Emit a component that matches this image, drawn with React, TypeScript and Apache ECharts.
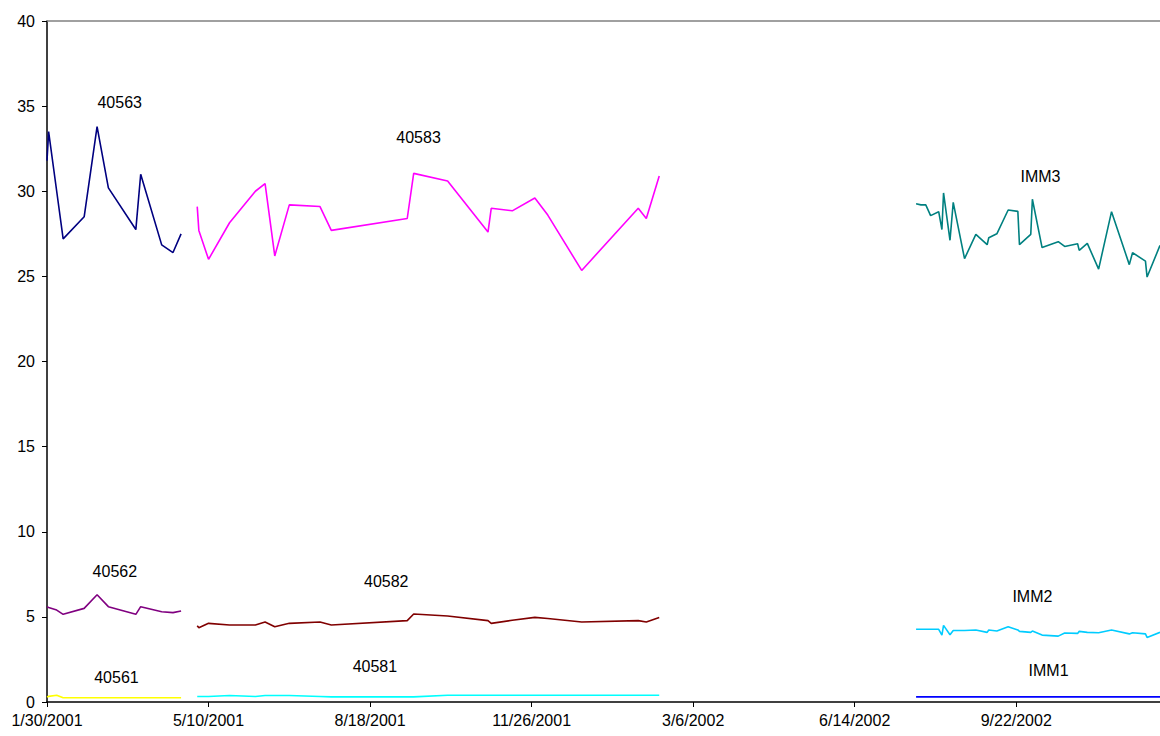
import React, { useEffect, useRef } from "react";
import * as echarts from "echarts";

// ---------- data ----------
const BASE_DATE = "2001-01-30";
const X_MAX_DAYS = 689;
const X_INTERVAL_DAYS = 100;
const Y_TICKS = [0, 5, 10, 15, 20, 25, 30, 35, 40];

// Group A: 40561 / 40562 / 40563
const datesA = [
  "2001-01-30", "2001-01-31", "2001-02-05", "2001-02-09", "2001-02-22", "2001-03-02",
  "2001-03-09", "2001-03-26", "2001-03-29", "2001-04-11", "2001-04-18", "2001-04-23",
];
const vals40563 = [31.8, 33.5, 30.0, 27.2, 28.5, 33.8, 30.2, 27.75, 31.0, 26.85, 26.4, 27.5];
const vals40562 = [5.6, 5.55, 5.4, 5.15, 5.5, 6.3, 5.6, 5.15, 5.6, 5.3, 5.25, 5.35];
const vals40561 = [0.3, 0.33, 0.4, 0.25, 0.25, 0.25, 0.25, 0.25, 0.25, 0.25, 0.25, 0.25];

// Group B: 40581 / 40582 / 40583
const datesB = [
  "2001-05-03", "2001-05-04", "2001-05-10", "2001-05-23", "2001-06-08", "2001-06-14",
  "2001-06-20", "2001-06-29", "2001-07-18", "2001-07-25", "2001-09-10", "2001-09-14",
  "2001-10-05", "2001-10-30", "2001-11-01", "2001-11-14", "2001-11-28", "2001-12-06",
  "2001-12-27", "2002-01-31", "2002-02-05", "2002-02-13",
];
const vals40583 = [
  29.1, 27.7, 26.0, 28.15, 30.0, 30.45, 26.2, 29.2, 29.1, 27.7, 28.4, 31.05,
  30.6, 27.6, 29.0, 28.85, 29.6, 28.6, 25.35, 29.0, 28.4, 30.9,
];
const vals40582 = [
  4.48, 4.36, 4.62, 4.52, 4.52, 4.7, 4.42, 4.62, 4.7, 4.52, 4.78, 5.17,
  5.05, 4.78, 4.62, 4.8, 4.97, 4.9, 4.7, 4.78, 4.7, 4.97,
];
const vals40581 = [
  0.32, 0.32, 0.32, 0.38, 0.32, 0.38, 0.38, 0.38, 0.32, 0.3, 0.3, 0.3,
  0.4, 0.4, 0.4, 0.4, 0.4, 0.4, 0.4, 0.4, 0.4, 0.4,
];

// Group C: IMM1 / IMM2 / IMM3
const datesC = [
  "2002-07-22", "2002-07-25", "2002-07-28", "2002-07-31", "2002-08-05", "2002-08-07",
  "2002-08-08", "2002-08-12", "2002-08-14", "2002-08-21", "2002-08-28", "2002-09-04",
  "2002-09-05", "2002-09-10", "2002-09-17", "2002-09-23", "2002-09-24", "2002-10-01",
  "2002-10-02", "2002-10-08", "2002-10-18", "2002-10-22", "2002-10-30", "2002-10-31",
  "2002-11-05", "2002-11-12", "2002-11-20", "2002-12-01", "2002-12-03", "2002-12-11",
  "2002-12-12", "2002-12-20",
];
const valsIMM3 = [
  29.27, 29.2, 29.2, 28.57, 28.8, 27.75, 29.9, 27.12, 29.35, 26.04, 27.47, 26.86,
  27.27, 27.5, 28.9, 28.82, 26.86, 27.47, 29.53, 26.69, 27.04, 26.76, 26.92, 26.53,
  26.94, 25.43, 28.8, 25.69, 26.39, 25.9, 24.96, 26.82,
];
const valsIMM2 = [
  4.27, 4.27, 4.27, 4.27, 4.27, 3.93, 4.5, 3.95, 4.2, 4.2, 4.23, 4.09,
  4.23, 4.17, 4.42, 4.23, 4.15, 4.09, 4.17, 3.93, 3.87, 4.05, 4.03, 4.15,
  4.09, 4.07, 4.23, 4.0, 4.07, 4.0, 3.79, 4.09,
];
const valsIMM1 = [
  0.3, 0.3, 0.3, 0.3, 0.3, 0.3, 0.3, 0.3, 0.3, 0.3, 0.3, 0.3,
  0.3, 0.3, 0.3, 0.3, 0.3, 0.3, 0.3, 0.3, 0.3, 0.3, 0.3, 0.3,
  0.3, 0.3, 0.3, 0.3, 0.3, 0.3, 0.3, 0.3,
];

// series names, colours and label anchor points (date, value)
const seriesNames = ["40563", "40562", "40561", "40583", "40582", "40581", "IMM3", "IMM2", "IMM1"];
const seriesColors = ["#000080", "#800080", "#FFFF00", "#FF00FF", "#800000", "#00FFFF", "#008080", "#00CCFF", "#0000FF"];
const labelDates = [
  "2001-03-16", "2001-03-13", "2001-03-14", "2001-09-17", "2001-08-28", "2001-08-21",
  "2002-10-07", "2002-10-02", "2002-10-12",
];
const labelValues = [35.2, 7.65, 1.45, 33.15, 7.1, 2.1, 30.85, 6.2, 1.85];

// ---------- helpers ----------
const DAY = 86400000;
const baseT = new Date(BASE_DATE).getTime();
const toDay = (s: string) => Math.round((new Date(s).getTime() - baseT) / DAY);
const fmtDay = (d: number) => {
  const t = new Date(baseT + d * DAY);
  return `${t.getUTCMonth() + 1}/${t.getUTCDate()}/${t.getUTCFullYear()}`;
};
const pair = (dates: string[], vals: number[]) => dates.map((d, i) => [toDay(d), vals[i]]);

const seriesData = [
  pair(datesA, vals40563),
  pair(datesA, vals40562),
  pair(datesA, vals40561),
  pair(datesB, vals40583),
  pair(datesB, vals40582),
  pair(datesB, vals40581),
  pair(datesC, valsIMM3),
  pair(datesC, valsIMM2),
  pair(datesC, valsIMM1),
];

const FONT = "'Liberation Sans', Arial, sans-serif";

export default function App() {
  const ref = useRef<HTMLDivElement>(null);
  useEffect(() => {
    if (!ref.current) return;
    const chart = echarts.init(ref.current, undefined, { renderer: "svg" });
    const series: any[] = seriesNames.map((name, i) => ({
      name,
      type: "line",
      data: seriesData[i],
      showSymbol: false,
      symbol: "none",
      clip: true,
      lineStyle: { color: seriesColors[i], width: 1.6 },
      itemStyle: { color: seriesColors[i] },
      markPoint: {
        silent: true,
        symbol: "circle",
        symbolSize: 1,
        itemStyle: { color: "rgba(0,0,0,0)" },
        label: {
          show: true,
          position: "inside",
          formatter: name,
          color: "#000",
          fontSize: 16,
          fontFamily: FONT,
        },
        data: [{ coord: [toDay(labelDates[i]), labelValues[i]] }],
      },
    }));
    series[0].markLine = {
      silent: true,
      symbol: "none",
      label: { show: false },
      lineStyle: { color: "#808080", type: "solid", width: 1.5 },
      data: [{ yAxis: Y_TICKS[Y_TICKS.length - 1] }],
    };
    chart.setOption({
      animation: false,
      backgroundColor: "#ffffff",
      grid: { left: 47, right: 0, top: 21, bottom: 34, containLabel: false },
      xAxis: {
        type: "value",
        min: 0,
        max: X_MAX_DAYS,
        interval: X_INTERVAL_DAYS,
        axisLine: { show: true, lineStyle: { color: "#000", width: 1.5 } },
        axisTick: { show: true, length: 5, lineStyle: { color: "#000" } },
        splitLine: { show: false },
        axisLabel: {
          formatter: (v: number) => fmtDay(v),
          color: "#000",
          fontSize: 16,
          fontFamily: FONT,
          margin: 10,
          showMaxLabel: false,
        },
      },
      yAxis: {
        type: "value",
        min: Y_TICKS[0],
        max: Y_TICKS[Y_TICKS.length - 1],
        interval: 5,
        axisLine: { show: true, lineStyle: { color: "#000", width: 1.5 } },
        axisTick: { show: true, length: 5, lineStyle: { color: "#000" } },
        splitLine: { show: false },
        axisLabel: { color: "#000", fontSize: 16, fontFamily: FONT, margin: 12 },
      },
      series,
    });
    return () => chart.dispose();
  }, []);
  return (
    <div
      ref={ref}
      style={{ position: "absolute", left: 0, top: 0, width: 1160, height: 736 }}
    />
  );
}
